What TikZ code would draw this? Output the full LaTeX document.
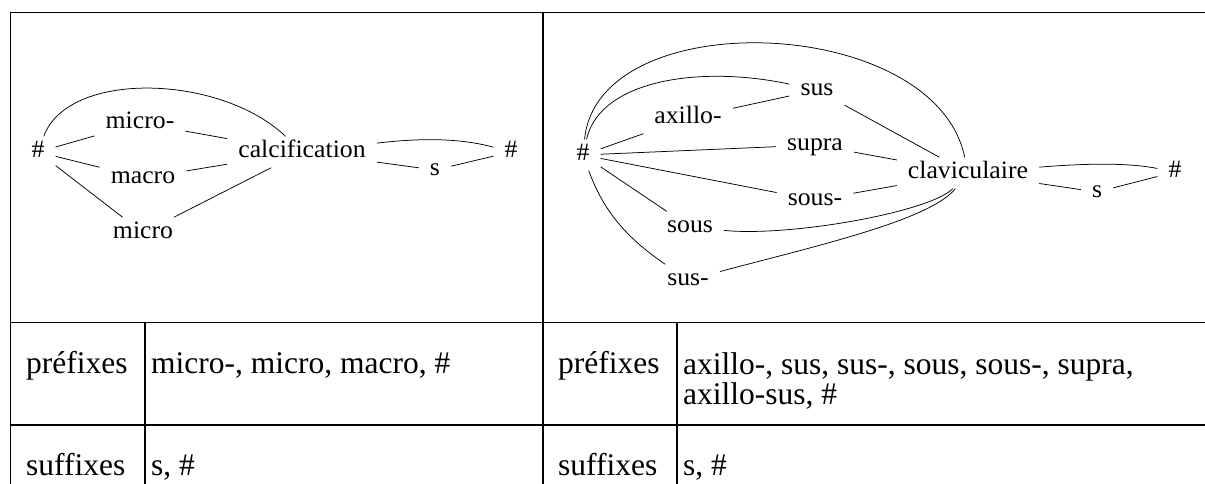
\documentclass[tikz,border=0pt]{standalone}
\usepackage{fontspec}
\setmainfont{Liberation Serif}
\newfontfamily\cellfont{Liberation Serif}
\newfontfamily\graphfont[FakeStretch=1.03]{Liberation Serif}
\begin{document}
\begin{tikzpicture}[x=1pt,y=-1pt,
	rule/.style={line width=1pt},
	thickrule/.style={line width=1.8pt},
	cell/.style={anchor=base west,inner sep=0pt,font=\cellfont\fontsize{31.5}{30}\selectfont},
	lbl/.style={inner xsep=11pt,inner ysep=5pt,text height=16pt,text depth=5pt,font=\graphfont\fontsize{25}{28}\selectfont},
	link/.style={line width=0.75pt}]
		\useasboundingbox (0,0) rectangle (1205,484);
		\draw[rule] (10.5,484) -- (10.5,12.5) -- (1205,12.5);
		\draw[rule] (10.5,322) -- (1205,322);
		\draw[thickrule] (10.5,425) -- (1205,425);
		\draw[thickrule] (543,12.5) -- (543,484);
		\draw[thickrule] (145,322) -- (145,484);
		\draw[thickrule] (677,322) -- (677,484);
		\node[cell] (pl) at (26,373) {préfixes};
		\node[cell] (plv) at (151,373) {micro-, micro, macro, \#};
		\node[cell] (sl) at (26,475) {suffixes};
		\node[cell] (slv) at (151,475) {s, \#};
		\node[cell] (pr) at (558,373) {préfixes};
		\node[cell,align=left] (prv) at (683,404) {axillo-, sus, sus-, sous, sous-, supra,\\axillo-sus, \#};
		\node[cell] (sr) at (558,475) {suffixes};
		\node[cell] (srv) at (683,475) {s, \#};
		\node[lbl] (hL) at (38,152) {\#};
		\node[lbl] (microA) at (140,123) {micro-};
		\node[lbl] (macro) at (143,178) {macro};
		\node[lbl] (micro) at (143,233) {micro};
		\node[lbl] (calc) at (302,152) {calcification};
		\node[lbl] (sL) at (435,170) {s};
		\node[lbl] (hLe) at (511,152) {\#};
		\draw[link] (hL) -- (microA);
		\draw[link] (hL) -- (macro);
		\draw[link] (hL) -- (micro);
		\draw[link] (microA) -- (calc);
		\draw[link] (macro) -- (calc);
		\draw[link] (micro) -- (calc);
		\draw[link] (hL) .. controls (68,70) and (220,74) .. (calc);
		\draw[link] (calc) .. controls (420,138) and (460,138) .. (hLe);
		\draw[link] (calc) -- (sL);
		\draw[link] (sL) -- (hLe);
		\node[lbl] (hR) at (583,155) {\#};
		\node[lbl] (axillo) at (688,118) {axillo-};
		\node[lbl] (sus) at (817,90) {sus};
		\node[lbl] (supra) at (815,145) {supra};
		\node[lbl] (sousA) at (815,200) {sous-};
		\node[lbl] (sous) at (690,227) {sous};
		\node[lbl] (susA) at (688,280) {sus-};
		\node[lbl] (clav) at (968,173) {claviculaire};
		\node[lbl] (sR) at (1097,192) {s};
		\node[lbl] (hRe) at (1175,172) {\#};
		\draw[link] (hR) -- (axillo);
		\draw[link] (hR) -- (supra);
		\draw[link] (hR) -- (sousA);
		\draw[link] (hR) -- (sous);
		\draw[link] (axillo) -- (sus);
		\draw[link] (sus) -- (clav);
		\draw[link] (supra) -- (clav);
		\draw[link] (sousA) -- (clav);
		\draw[link] (hR) .. controls (598,2) and (935,14) .. (clav);
		\draw[link] (hR) .. controls (600,80) and (700,65) .. (sus);
		\draw[link] (hR) .. controls (605,215) and (630,240) .. (susA);
		\draw[link] (sous) .. controls (790,237) and (930,212) .. (clav);
		\draw[link] (susA) .. controls (820,245) and (930,220) .. (clav);
		\draw[link] (clav) .. controls (1090,163) and (1130,163) .. (hRe);
		\draw[link] (clav) -- (sR);
		\draw[link] (sR) -- (hRe);
\end{tikzpicture}
\end{document}
